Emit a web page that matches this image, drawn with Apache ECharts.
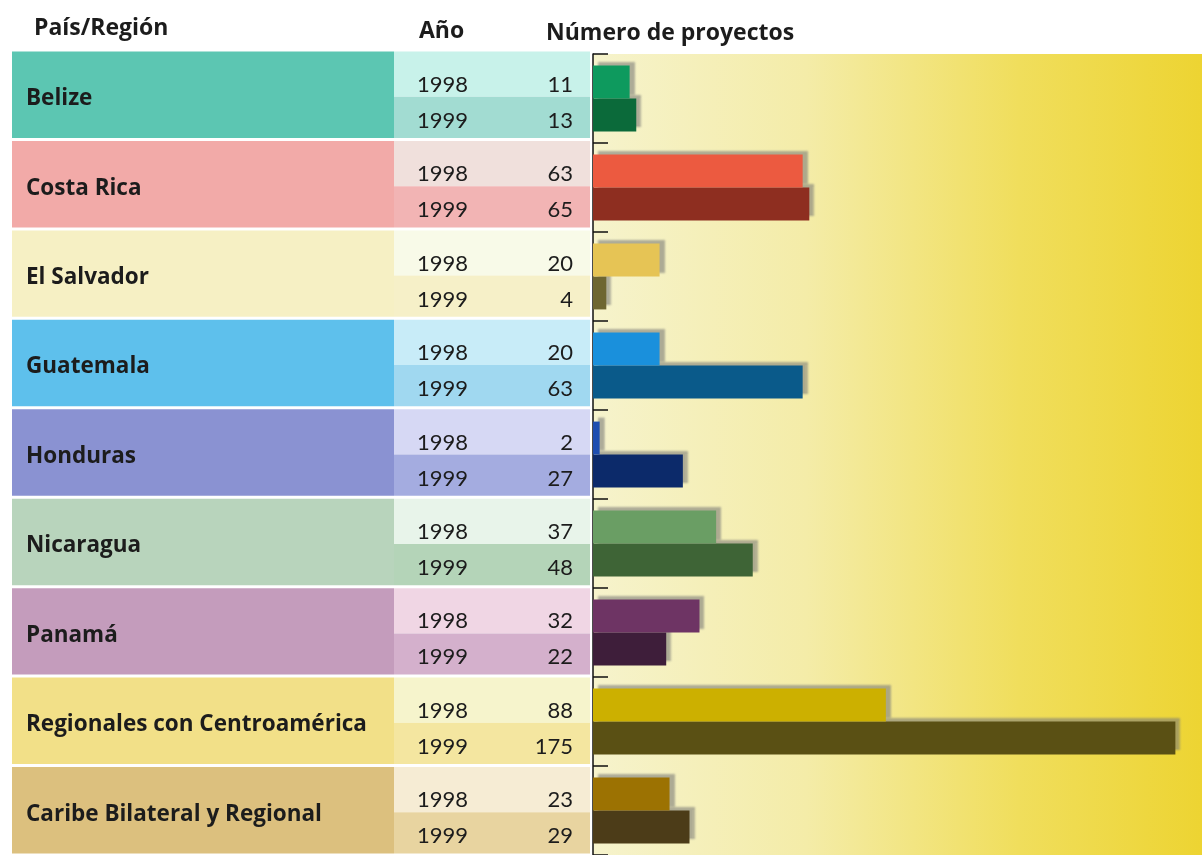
<!DOCTYPE html>
<html>
<head>
<meta charset="utf-8">
<script src="https://cdn.jsdelivr.net/npm/echarts@6/dist/echarts.min.js"></script>
<style>
html,body{margin:0;padding:0;background:#fff;}
#chart{width:1202px;height:855px;}
</style>
</head>
<body>
<div id="chart"></div>
<script>
// ---- data ----
const groups = ['Belize','Costa Rica','El Salvador','Guatemala','Honduras','Nicaragua','Panamá','Regionales con Centroamérica','Caribe Bilateral y Regional'];
const years = ['1998','1999'];
const v1998 = [11, 63, 20, 20, 2, 37, 32, 88, 23];
const v1999 = [13, 65, 4, 63, 27, 48, 22, 175, 29];
const headers = ['País/Región','Año','Número de proyectos'];

// ---- colours ----
const bandColors = ['#5cc6b2','#f2aaa8','#f6f0c4','#5ec0ec','#8a92d2','#b8d4bc','#c49cbc','#f2e088','#dcc07e'];
const cell98Colors = ['#c8f2ea','#f0e0dc','#f8fae8','#c8ecf8','#d6d8f4','#e8f4ea','#f0d6e4','#f6f4cc','#f6ecd4'];
const cell99Colors = ['#a2dcd2','#f2b4b4','#f6f0c8','#a0d8f0','#a4ace0','#b4d4b8','#d4b0cc','#f4e6a0','#e8d4a0'];
const bar98Colors = ['#0e9a5e','#ec5a40','#e6c455','#1a90dc','#1e4eb0','#6a9e64','#6e3464','#ccb000','#9c7202'];
const bar99Colors = ['#0b6a3a','#8e2e20','#6e6632','#0a5a8a','#0c2a6a','#3e6436','#3e1e3a','#5a5014','#4c3c18'];

const NUMFONT = 'Lato, "Open Sans", sans-serif';
const BOLDFONT = '"Open Sans", Lato, sans-serif';
const shadow = {shadowColor:'rgba(125,125,120,0.6)', shadowOffsetX:5, shadowOffsetY:-4, shadowBlur:2};

function barData(vals, cols){
  return vals.map((v,i)=>({value:v, itemStyle:Object.assign({color:cols[i]}, shadow)}));
}

function renderTable(params, api){
  const i = api.value(0);
  const c = api.coord([0, i]);
  const h = api.size([0, 1])[1];
  const x0 = c[0];
  const xs = api.coord([382, i])[0];
  const xe = api.coord([578, i])[0];
  const top = c[1] - h/2 + 1.5;
  const bot = c[1] + h/2 - 1.5;
  const mid = c[1] + 2;
  const txt = {fill:'#1c1c1c', font:'400 22px ' + NUMFONT, verticalAlign:'middle'};
  return {type:'group', children:[
    {type:'rect', shape:{x:x0, y:top, width:xs-x0, height:bot-top}, style:{fill:bandColors[i]}},
    {type:'rect', shape:{x:xs, y:top, width:xe-xs, height:mid-top}, style:{fill:cell98Colors[i]}},
    {type:'rect', shape:{x:xs, y:mid, width:xe-xs, height:bot-mid}, style:{fill:cell99Colors[i]}},
    {type:'text', style:{x:x0+14, y:c[1]+4, text:groups[i], fill:'#1c1c1c', font:'700 22.5px ' + BOLDFONT, verticalAlign:'middle'}},
    {type:'text', style:Object.assign({x:xs+23, y:c[1]-10, text:years[0]}, txt)},
    {type:'text', style:Object.assign({x:xs+23, y:c[1]+26, text:years[1]}, txt)},
    {type:'text', style:Object.assign({x:xe-17, y:c[1]-10, text:String(v1998[i]), align:'right'}, txt)},
    {type:'text', style:Object.assign({x:xe-17, y:c[1]+26, text:String(v1999[i]), align:'right'}, txt)}
  ]};
}

const chart = echarts.init(document.getElementById('chart'), null, {renderer:'canvas'});
const hs = {fontFamily:BOLDFONT, fontWeight:'bold', fontSize:23, color:'#1c1c1c'};
chart.setOption({
  backgroundColor:'#ffffff',
  animation:false,
  title:[
    {text:headers[0], left:29, top:12, textStyle:hs},
    {text:headers[1], left:414, top:15, textStyle:hs},
    {text:headers[2], left:541, top:17, textStyle:hs}
  ],
  grid:[
    {left:12, width:580, top:50, height:808},
    {left:593, right:0, top:54, height:808, show:true, borderWidth:0,
     backgroundColor:{type:'linear', x:0, y:0, x2:1, y2:0, colorStops:[
       {offset:0, color:'#f6f3cc'},
       {offset:0.35, color:'#f4eca8'},
       {offset:0.7, color:'#f0de5c'},
       {offset:1, color:'#edd432'}]}}
  ],
  xAxis:[
    {gridIndex:0, type:'value', min:0, max:580, show:false},
    {gridIndex:1, type:'value', min:0, max:183, show:false}
  ],
  yAxis:[
    {gridIndex:0, type:'category', data:groups, inverse:true, show:false},
    {gridIndex:1, type:'category', data:groups, inverse:true,
     axisLine:{show:true, lineStyle:{color:'#111', width:1.5}},
     axisTick:{show:true, inside:true, length:15, lineStyle:{color:'#111', width:1.5}},
     axisLabel:{show:false}, splitLine:{show:false}}
  ],
  series:[
    {type:'custom', xAxisIndex:0, yAxisIndex:0, data:groups.map((g,i)=>[i]), renderItem:renderTable, silent:true},
    {type:'bar', name:years[0], xAxisIndex:1, yAxisIndex:1, z:3, barGap:'0%', barCategoryGap:'26%', data:barData(v1998, bar98Colors)},
    {type:'bar', name:years[1], xAxisIndex:1, yAxisIndex:1, z:2, barGap:'0%', barCategoryGap:'26%', data:barData(v1999, bar99Colors)}
  ]
});
</script>
</body>
</html>
